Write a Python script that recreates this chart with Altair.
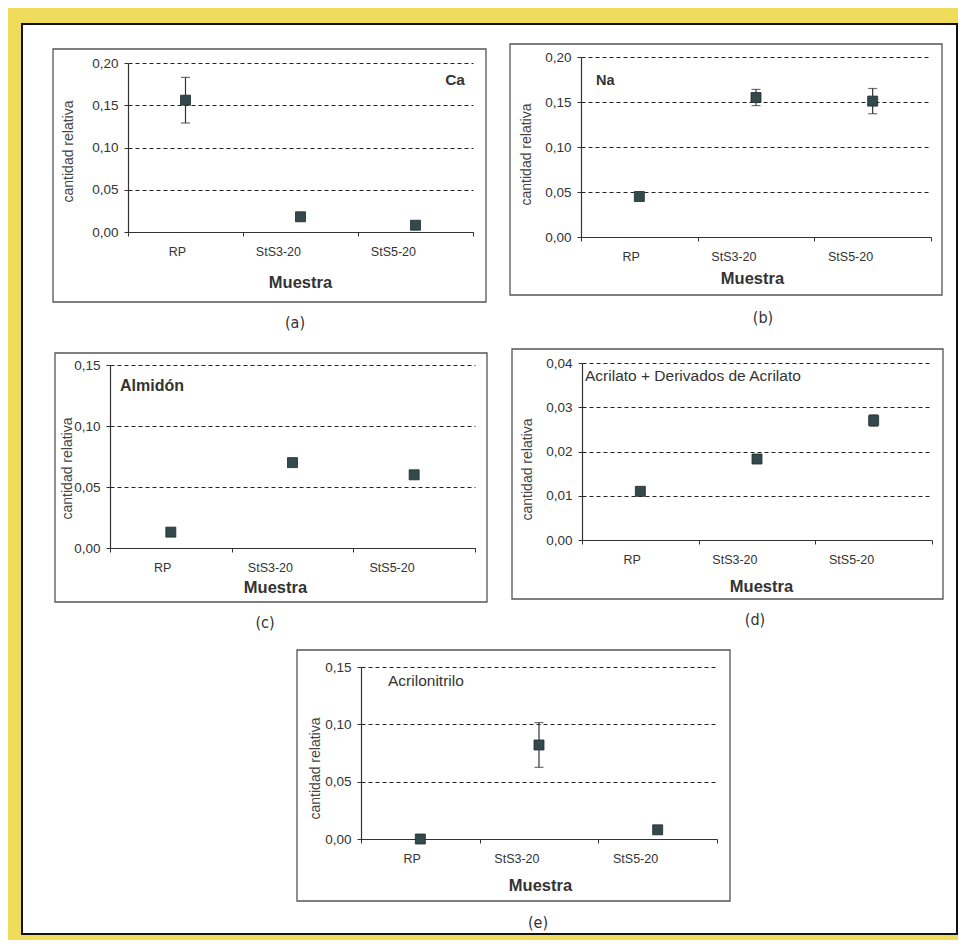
import altair as alt
import pandas as pd

# ---------------- data ----------------
samples = ["RP", "StS3-20", "StS5-20"]

ca_value = [0.156, 0.018, 0.008]
ca_error = [0.027, 0.0, 0.0]

na_value = [0.045, 0.155, 0.151]
na_error = [0.0, 0.009, 0.014]

alm_value = [0.013, 0.070, 0.060]
alm_error = [0.0, 0.0, 0.0]

acr_value = [0.011, 0.0183, 0.027]
acr_error = [0.0, 0.0, 0.0013]

an_value = [0.0, 0.082, 0.008]
an_error = [0.0, 0.0195, 0.0]

ticks_020 = [0.0, 0.05, 0.10, 0.15, 0.20]
ticks_015 = [0.0, 0.05, 0.10, 0.15]
ticks_004 = [0.0, 0.01, 0.02, 0.03, 0.04]

panel_labels = ["Ca", "Na", "Almidón", "Acrilato + Derivados de Acrilato", "Acrilonitrilo"]
captions = ["(a)", "(b)", "(c)", "(d)", "(e)"]
y_title = "cantidad relativa"
x_title = "Muestra"

# ---------------- layout / style ----------------
W, H = 935, 910
FONT = "Liberation Sans, Arial, sans-serif"
CAP_FONT = "Liberation Sans Narrow, DejaVu Sans Condensed, Roboto, Liberation Sans, sans-serif"
TXT = "#333333"
SQ = "#34494b"

layouts = [
    dict(frame=(31, 25, 464, 278), xr=(106, 451), yr=(208, 39), ymax=0.20, ticks=ticks_020,
         tx=-60, ty=127, xtx=278, xty=50, lab=(443, 56, "right", "bold", 15.5), cap=(273, 299)),
    dict(frame=(488, 20, 920, 271), xr=(559, 909), yr=(213, 33), ymax=0.20, ticks=ticks_020,
         tx=-55, ty=130, xtx=730, xty=41, lab=(574, 57, "left", "bold", 14.5), cap=(741, 294)),
    dict(frame=(33, 329, 465, 578), xr=(88, 453), yr=(524, 341), ymax=0.15, ticks=ticks_015,
         tx=-43, ty=444, xtx=253, xty=39, lab=(98, 362, "left", "bold", 16), cap=(243, 599)),
    dict(frame=(490, 325, 921, 575), xr=(560, 910), yr=(516, 339), ymax=0.04, ticks=ticks_004,
         tx=-55, ty=445, xtx=739, xty=46, lab=(563, 352, "left", "normal", 15.5), cap=(733, 596)),
    dict(frame=(275, 626, 708, 877), xr=(339, 695), yr=(815, 643), ymax=0.15, ticks=ticks_015,
         tx=-46, ty=744, xtx=518, xty=46, lab=(366, 657, "left", "normal", 15.5), cap=(516, 899)),
]

series = [
    (ca_value, ca_error),
    (na_value, na_error),
    (alm_value, alm_error),
    (acr_value, acr_error),
    (an_value, an_error),
]

one = pd.DataFrame({"k": [0]})


def make_panel(i):
    vals, errs = series[i]
    L = layouts[i]
    df = pd.DataFrame({
        "Muestra": samples,
        "valor": vals,
        "err": errs,
    })
    df["lo"] = df["valor"] - df["err"]
    df["hi"] = df["valor"] + df["err"]

    xscale = alt.Scale(type="band", domain=samples, range=list(L["xr"]),
                       paddingInner=0, paddingOuter=0)
    yscale = alt.Scale(domain=[0, L["ymax"]], range=list(L["yr"]), nice=False, zero=True)

    xaxis = alt.Axis(
        orient="bottom", offset=L["yr"][0] - H, tickBand="extent", grid=False,
        domainColor="#333333", domainWidth=1.2, tickColor="#333333", tickSize=4,
        labelAngle=0, labelPadding=15.5, labelBaseline="middle", labelFont=FONT,
        labelFontSize=12.5, labelColor=TXT,
        title=x_title, titleFont=FONT, titleFontSize=16.5, titleFontWeight="bold",
        titleColor=TXT, titleX=L["xtx"], titleY=L["xty"], titleBaseline="middle",
    )
    yaxis = alt.Axis(
        orient="left", offset=-L["xr"][0], values=L["ticks"],
        labelExpr="replace(format(datum.value, '.2f'), '.', ',')",
        grid=True, gridDash=[4, 3], gridColor="#222222", gridWidth=1,
        domainColor="#333333", domainWidth=1.2, tickColor="#333333", tickSize=4,
        labelPadding=6, labelFont=FONT, labelFontSize=13.5, labelColor=TXT,
        title=y_title, titleFont=FONT, titleFontSize=14, titleFontWeight="normal",
        titleColor="#444444", titleX=L["tx"], titleY=L["ty"], titleBaseline="middle",
    )

    base = alt.Chart(df)
    x_enc = alt.X("Muestra:N", scale=xscale, axis=xaxis, sort=samples)
    x_noax = alt.X("Muestra:N", scale=xscale, sort=samples)

    pts = base.mark_square(size=100, color=SQ, opacity=1, stroke="#1f2b2c", strokeWidth=0.8).encode(
        x=x_enc,
        y=alt.Y("valor:Q", scale=yscale, axis=yaxis),
    )
    errdf = base.transform_filter("datum.err > 0")
    rule = errdf.mark_rule(color="#333333", strokeWidth=1.2).encode(
        x=x_noax, y=alt.Y("lo:Q", scale=yscale), y2="hi:Q"
    )
    cap_lo = errdf.mark_tick(color="#333333", size=9, thickness=1.2).encode(
        x=x_noax, y=alt.Y("lo:Q", scale=yscale)
    )
    cap_hi = errdf.mark_tick(color="#333333", size=9, thickness=1.2).encode(
        x=x_noax, y=alt.Y("hi:Q", scale=yscale)
    )

    fx0, fy0, fx1, fy1 = L["frame"]
    frame = alt.Chart(one).mark_rect(fillOpacity=0, stroke="#555555", strokeWidth=1.3).encode(
        x=alt.value(fx0), x2=alt.value(fx1), y=alt.value(fy0), y2=alt.value(fy1)
    )
    lx, ly, lalign, lweight, lsize = L["lab"]
    label = alt.Chart(one).mark_text(
        font=FONT, fontSize=lsize, fontWeight=lweight, align=lalign, baseline="middle", color=TXT
    ).encode(x=alt.value(lx), y=alt.value(ly), text=alt.value(panel_labels[i]))
    cx, cy = L["cap"]
    caption = alt.Chart(one).mark_text(
        font=CAP_FONT, fontSize=16, align="center", baseline="middle", color=TXT
    ).encode(x=alt.value(cx), y=alt.value(cy), text=alt.value(captions[i]))

    return alt.layer(frame, rule, cap_lo, cap_hi, pts, label, caption)


panels = [make_panel(i) for i in range(5)]

chart = (
    alt.layer(*panels)
    .resolve_scale(x="independent", y="independent")
    .resolve_axis(x="independent", y="independent")
    .properties(
        width=W, height=H,
        padding={"left": 14, "top": 16, "right": 1, "bottom": 6},
        background="#efdc5a",
    )
    .configure_view(fill="white", stroke="#111111", strokeWidth=2)
)

chart.save("out.html", embed_options={"renderer": "svg", "actions": False})
